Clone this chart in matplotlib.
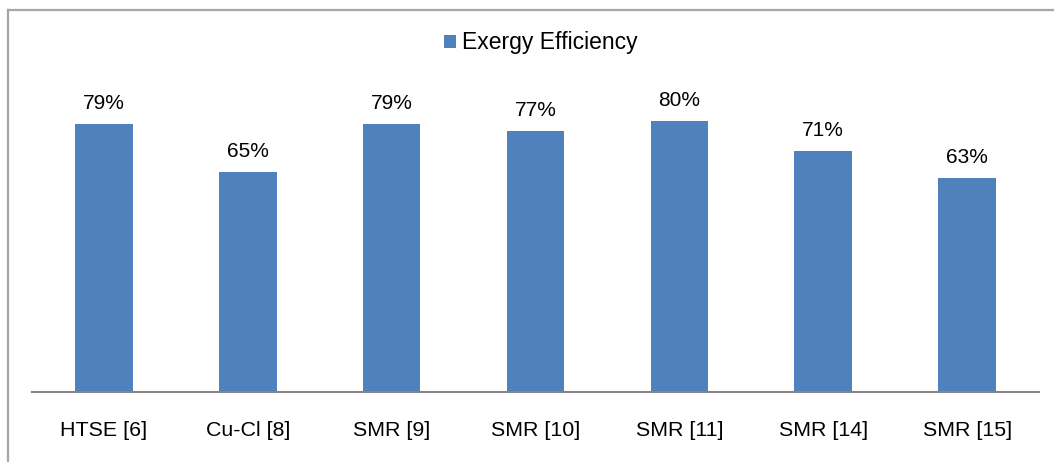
import matplotlib
matplotlib.use('Agg')
import matplotlib.pyplot as plt
from matplotlib.lines import Line2D

plt.rcParams['font.family'] = ['Liberation Sans', 'DejaVu Sans']

categories = ['HTSE [6]', 'Cu-Cl [8]', 'SMR [9]', 'SMR [10]', 'SMR [11]', 'SMR [14]', 'SMR [15]']
efficiency = [79, 65, 79, 77, 80, 71, 63]

bar_color = '#4F81BD'

fig = plt.figure(figsize=(10.54, 4.62), dpi=100)
ax = fig.add_axes([0.0304, 0.1515, 0.9554, 0.7338])

bars = ax.bar(range(len(categories)), efficiency, width=0.4, color=bar_color,
              label='Exergy Efficiency')
for b, v in zip(bars, efficiency):
    ax.annotate(f'{v}%', (b.get_x() + b.get_width() / 2, v), xytext=(0, 8),
                textcoords='offset points', ha='center', va='bottom', fontsize=15)

ax.set_xlim(-0.5, len(categories) - 0.5)
ax.set_ylim(0, 100)
ax.set_xticks(range(len(categories)))
ax.set_xticklabels(categories, fontsize=15.4)
ax.tick_params(axis='x', length=0, pad=21)
ax.set_yticks([])
for s in ['left', 'right', 'top']:
    ax.spines[s].set_visible(False)
ax.spines['bottom'].set_color('#868686')
ax.spines['bottom'].set_linewidth(1.5)

ax.legend(loc='center', bbox_to_anchor=(0.505, 1.03), frameon=False, fontsize=16.5,
          handlelength=0.52, handleheight=0.52, handletextpad=0.26)

# outer chart border (only top and left visible in the crop)
fig.add_artist(Line2D([8 / 1054, 1], [1 - 9.5 / 462, 1 - 9.5 / 462],
                      transform=fig.transFigure, color='#A6A6A6', lw=1.6))
fig.add_artist(Line2D([8 / 1054, 8 / 1054], [0, 1 - 9.5 / 462],
                      transform=fig.transFigure, color='#A6A6A6', lw=1.6))

fig.savefig('out.png', dpi=100)
